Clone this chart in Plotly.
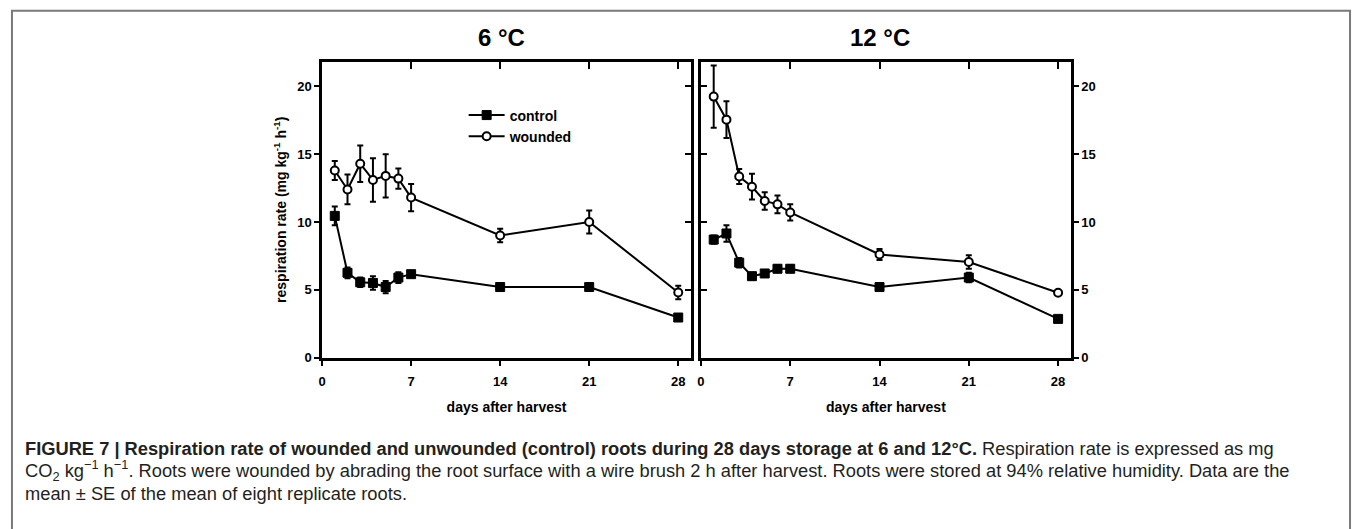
import plotly.graph_objects as go

# ---------------- data ----------------
days = [1, 2, 3, 4, 5, 6, 7, 14, 21, 28]

ctrl_6 = [10.45, 6.25, 5.55, 5.5, 5.2, 5.9, 6.15, 5.2, 5.2, 2.95]
ctrl_6_se = [0.7, 0.4, 0.35, 0.5, 0.45, 0.4, 0.2, 0.2, 0.3, 0.2]
wound_6 = [13.8, 12.4, 14.3, 13.1, 13.4, 13.2, 11.8, 9.0, 10.0, 4.8]
wound_6_se = [0.7, 1.1, 1.35, 1.6, 1.6, 0.75, 1.0, 0.5, 0.85, 0.5]

ctrl_12 = [8.7, 9.15, 7.0, 6.0, 6.2, 6.55, 6.55, 5.2, 5.9, 2.85]
ctrl_12_se = [0.3, 0.6, 0.35, 0.25, 0.2, 0.25, 0.25, 0.15, 0.35, 0.2]
wound_12 = [19.25, 17.55, 13.35, 12.6, 11.55, 11.3, 10.7, 7.6, 7.05, 4.78]
wound_12_se = [2.3, 1.35, 0.55, 0.95, 0.65, 0.65, 0.6, 0.4, 0.5, 0.15]

x_ticks = [0, 7, 14, 21, 28]
y_ticks = [0, 5, 10, 15, 20]
panel_titles = ["6 °C", "12 °C"]
x_title = "days after harvest"
y_title = "respiration rate (mg kg<sup>-1</sup> h<sup>-1</sup>)"
series_names = ["control", "wounded"]

caption_lines = [
    "<b>FIGURE 7 | Respiration rate of wounded and unwounded (control) roots during 28 days storage at 6 and 12°C.</b> Respiration rate is expressed as mg",
    "CO<sub>2</sub> kg<sup>−1</sup> h<sup>−1</sup>. Roots were wounded by abrading the root surface with a wire brush 2 h after harvest. Roots were stored at 94% relative humidity. Data are the",
    "mean ± SE of the mean of eight replicate roots.",
]

# ---------------- layout geometry ----------------
W, H = 1357, 529
def px_x(v):
    return v / W
def px_y(v):
    return 1 - v / H

dom_x1 = [px_x(319), px_x(689)]
dom_x2 = [px_x(699), px_x(1070)]
dom_y = [px_y(363), px_y(63)]
x_range = [0, 29]
y_range = [0, 21.8]

FAM = "Liberation Sans, Arial, sans-serif"
TICK_FONT = dict(family=FAM, size=13, color="black", weight="bold")
LINE_W = 2.5

fig = go.Figure()

def add_series(xa, ya, y, se, name, filled, show_legend):
    if filled:
        marker = dict(symbol="square", size=9, color="black", line=dict(color="black", width=1))
    else:
        marker = dict(symbol="circle", size=8, color="white", line=dict(color="black", width=2))
    fig.add_trace(go.Scatter(
        x=days, y=y, mode="lines+markers", name=name,
        line=dict(color="black", width=2),
        marker=marker,
        error_y=dict(type="data", array=se, visible=True, color="black", thickness=2, width=3),
        xaxis=xa, yaxis=ya, showlegend=show_legend, legendgroup=name,
        hoverinfo="skip",
    ))

add_series("x", "y", wound_6, wound_6_se, series_names[1], False, False)
add_series("x", "y", ctrl_6, ctrl_6_se, series_names[0], True, True)
add_series("x", "y", [None], [0], series_names[1], False, True)
add_series("x2", "y2", wound_12, wound_12_se, series_names[1], False, False)
add_series("x2", "y2", ctrl_12, ctrl_12_se, series_names[0], True, False)

# dummy traces so overlay axes render
fig.add_trace(go.Scatter(x=[None], y=[None], xaxis="x3", yaxis="y3", showlegend=False, hoverinfo="skip"))
fig.add_trace(go.Scatter(x=[None], y=[None], xaxis="x4", yaxis="y4", showlegend=False, hoverinfo="skip"))

base_x = dict(range=x_range, tickvals=x_ticks, ticks="outside", ticklen=6, tickwidth=2,
              tickcolor="black", showline=True, linewidth=LINE_W, linecolor="black", mirror=True,
              showgrid=False, zeroline=False, tickfont=TICK_FONT, ticklabelstandoff=4,
              title=dict(text=x_title, font=dict(family=FAM, size=14, color="black", weight="bold"),
                         standoff=15))
base_y = dict(range=y_range, tickvals=y_ticks, ticks="outside", ticklen=5, tickwidth=2,
              tickcolor="black", showline=True, linewidth=LINE_W, linecolor="black", mirror=True,
              showgrid=False, zeroline=False, tickfont=TICK_FONT)
inner_x = dict(range=x_range, tickvals=x_ticks, ticks="inside", ticklen=7, tickwidth=2,
               tickcolor="black", showline=False, showticklabels=False, showgrid=False, zeroline=False)
inner_y = dict(range=y_range, tickvals=y_ticks, ticks="inside", ticklen=6, tickwidth=2,
               tickcolor="black", showline=False, showticklabels=False, showgrid=False, zeroline=False)

fig.update_layout(
    width=W, height=H,
    margin=dict(l=0, r=0, t=0, b=0),
    paper_bgcolor="white", plot_bgcolor="white",
    font=dict(family=FAM, color="black"),
    xaxis=dict(base_x, domain=dom_x1, anchor="y"),
    yaxis=dict(base_y, domain=dom_y, anchor="x", side="left",
               title=dict(text=y_title, font=dict(family=FAM, size=14, color="black", weight="bold"),
                          standoff=8)),
    xaxis2=dict(base_x, domain=dom_x2, anchor="y2"),
    yaxis2=dict(base_y, domain=dom_y, anchor="x2", side="right"),
    xaxis3=dict(inner_x, overlaying="x", side="top", anchor="y"),
    yaxis3=dict(inner_y, overlaying="y", side="right", anchor="x"),
    xaxis4=dict(inner_x, overlaying="x2", side="top", anchor="y2"),
    yaxis4=dict(inner_y, overlaying="y2", side="left", anchor="x2"),
    legend=dict(x=px_x(461), y=px_y(101), xanchor="left", yanchor="top",
                bgcolor="rgba(0,0,0,0)",
                font=dict(family=FAM, size=14, color="black", weight="bold"),
                itemwidth=36, tracegroupgap=0, traceorder="normal"),
    showlegend=True,
)

# panel titles
for t, dom in zip(panel_titles, [dom_x1, dom_x2]):
    fig.add_annotation(text=t, x=(dom[0] + dom[1]) / 2 - 0.004, y=px_y(38),
                       xref="paper", yref="paper", showarrow=False, xanchor="center", yanchor="middle",
                       font=dict(family=FAM, size=24, color="black", weight="bold"))

# caption
cap_y = [455, 478, 501]
for line, yy in zip(caption_lines, cap_y):
    fig.add_annotation(text=line, x=px_x(19), y=px_y(yy), xref="paper", yref="paper",
                       showarrow=False, xanchor="left", yanchor="middle", align="left",
                       font=dict(family=FAM, size=18.3, color="#231f20"))

# figure frame
fig.add_shape(type="rect", xref="paper", yref="paper", x0=px_x(8), x1=px_x(1350),
              y0=-0.2, y1=px_y(11), line=dict(color="#7a7a7a", width=2), fillcolor="rgba(0,0,0,0)",
              layer="below")

fig.write_html("out.html")
